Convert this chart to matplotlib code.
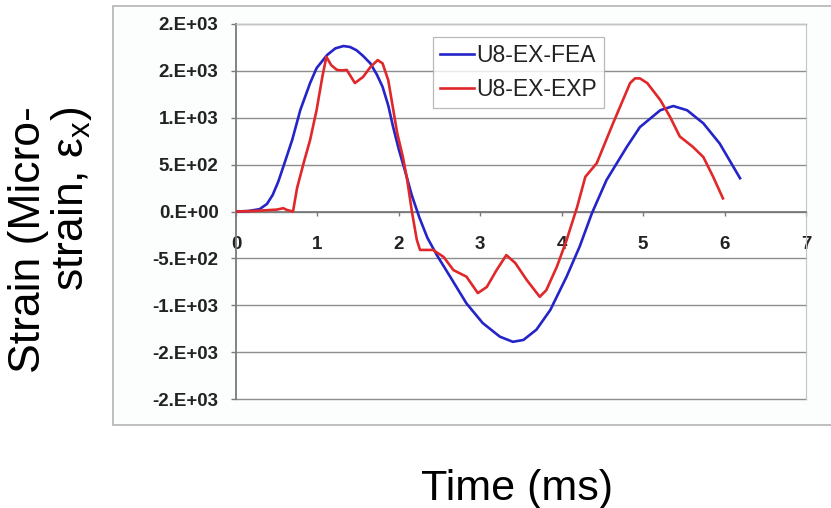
import matplotlib
matplotlib.use("Agg")
import matplotlib.pyplot as plt
from matplotlib.patches import Rectangle
from matplotlib.ticker import FixedLocator, FixedFormatter

plt.rcParams['font.family'] = ['Liberation Sans', 'DejaVu Sans']
plt.rcParams['mathtext.fontset'] = 'custom'
plt.rcParams['mathtext.rm'] = 'Liberation Sans'
plt.rcParams['mathtext.it'] = 'Liberation Sans:italic'

# FEA prediction (time in ms, strain in microstrain)
fea_t = [0, 0.15, 0.29, 0.38, 0.45, 0.52, 0.58, 0.69, 0.79, 0.91, 0.99, 1.12,
         1.22, 1.32, 1.40, 1.48, 1.56, 1.65, 1.73, 1.80, 1.87, 1.93, 2.00,
         2.08, 2.16, 2.25, 2.35, 2.47, 2.63, 2.83, 3.03, 3.24, 3.40, 3.53,
         3.69, 3.86, 4.06, 4.22, 4.37, 4.55, 4.80, 4.96, 5.21, 5.37, 5.54,
         5.74, 5.94, 6.19]
fea_v = [0, 5, 25, 80, 176, 320, 475, 763, 1083, 1370, 1530, 1670,
         1740, 1765, 1755, 1720, 1660, 1580, 1460, 1330, 1130, 900, 660,
         420, 170, -60, -280, -470, -695, -980, -1190, -1335, -1390, -1370,
         -1260, -1050, -695, -375, -20, 335, 690, 900, 1080, 1125, 1080,
         940, 725, 355]

# Measured response
exp_t = [0, 0.2, 0.4, 0.5, 0.58, 0.63, 0.70, 0.75, 0.83, 0.91, 0.99, 1.06,
         1.11, 1.17, 1.24, 1.30, 1.36, 1.46, 1.56, 1.65, 1.74, 1.80, 1.87,
         1.98, 2.05, 2.10, 2.16, 2.22, 2.26, 2.42, 2.55, 2.67, 2.83, 2.97,
         3.08, 3.20, 3.32, 3.43, 3.57, 3.73, 3.81, 3.94, 4.06, 4.19, 4.29,
         4.43, 4.63, 4.84, 4.90, 4.96, 5.05, 5.21, 5.33, 5.45, 5.61, 5.74,
         5.86, 5.98]
exp_v = [0, 5, 15, 20, 35, 15, 0, 250, 515, 763, 1083, 1435,
         1650, 1560, 1510, 1505, 1510, 1370, 1435, 1540, 1615, 1580, 1400,
         835, 580, 350, 0, -300, -410, -410, -485, -625, -695, -870,
         -805, -625, -465, -550, -730, -910, -840, -590, -305, 50, 370,
         515, 940, 1370, 1420, 1420, 1370, 1190, 1010, 800, 690, 580,
         370, 140]

y_ticks = [2000, 1500, 1000, 500, 0, -500, -1000, -1500, -2000]
y_tick_labels = ['2.E+03', '2.E+03', '1.E+03', '5.E+02', '0.E+00',
                 '-5.E+02', '-1.E+03', '-2.E+03', '-2.E+03']
x_ticks = [0, 1, 2, 3, 4, 5, 6, 7]
x_tick_labels = ['0', '1', '2', '3', '4', '5', '6', '7']

W, H = 831, 508
fig = plt.figure(figsize=(W / 100, H / 100), dpi=100)
fig.patch.set_facecolor('white')

# chart-area frame, kept behind the axes
fig.patches.append(Rectangle((113 / W, 1 - 425 / H), (840 - 113) / W, (425 - 6) / H,
                             transform=fig.transFigure, facecolor='#fcfdfd',
                             edgecolor='#b4b4b4', lw=1.2, zorder=-5))

ax = fig.add_axes([236 / W, 1 - 399 / H, (806 - 236) / W, (399 - 24) / H])
ax.set_zorder(2)
ax.set_facecolor('white')

ax.plot(fea_t, fea_v, color='#2424c8', lw=1.9, label='U8-EX-FEA', zorder=3)
ax.plot(exp_t, exp_v, color='#e0282a', lw=1.9, label='U8-EX-EXP', zorder=4)

ax.set_xlim(0, 7)
ax.set_ylim(-2000, 2000)

ax.yaxis.set_major_locator(FixedLocator(y_ticks))
ax.yaxis.set_major_formatter(FixedFormatter(y_tick_labels))
ax.xaxis.set_major_locator(FixedLocator(x_ticks))
ax.xaxis.set_major_formatter(FixedFormatter(x_tick_labels))

for v in y_ticks:
    ax.axhline(v, color='#8e8e8e', lw=1.0, zorder=1, clip_on=False)

ax.spines['bottom'].set_position(('data', 0))
ax.spines['bottom'].set_color('#7a7a7a')
ax.spines['bottom'].set_linewidth(1.3)
ax.spines['left'].set_color('#7a7a7a')
ax.spines['left'].set_linewidth(1.3)
ax.spines['top'].set_color('#c4c4c4')
ax.spines['right'].set_color('#c4c4c4')

ax.tick_params(axis='y', direction='out', length=3.6, width=1, color='#7a7a7a',
               pad=9, labelsize=13.5, labelcolor='#222222')
ax.tick_params(axis='x', direction='out', length=3, width=1, color='#7a7a7a',
               pad=14.5, labelsize=13.5, labelcolor='#222222')
for lab in ax.get_xticklabels() + ax.get_yticklabels():
    lab.set_fontweight('bold')

leg = ax.legend(loc='upper left', bbox_to_anchor=(433 / W, 1 - 37 / H),
                bbox_transform=fig.transFigure, borderaxespad=0,
                fontsize=16.5, frameon=True, fancybox=False,
                handlelength=1.5, handletextpad=0.1, labelspacing=0.5,
                borderpad=0.3)
leg.get_frame().set_edgecolor('#a8a8a8')
leg.get_frame().set_linewidth(0.9)
for t in leg.get_texts():
    t.set_color('#222222')

# two-line axis title, rotated
fig.text(51 / W, 1 - 240 / H, 'Strain (Micro-\n' + r'strain, $\mathregular{\varepsilon_x}$)',
         rotation=90, fontsize=32, ha='center', va='center',
         multialignment='right', linespacing=0.98)
fig.text(517 / W, 1 - 500 / H, 'Time (ms)', fontsize=31, ha='center', va='baseline')

fig.savefig('out.png', dpi=100)
